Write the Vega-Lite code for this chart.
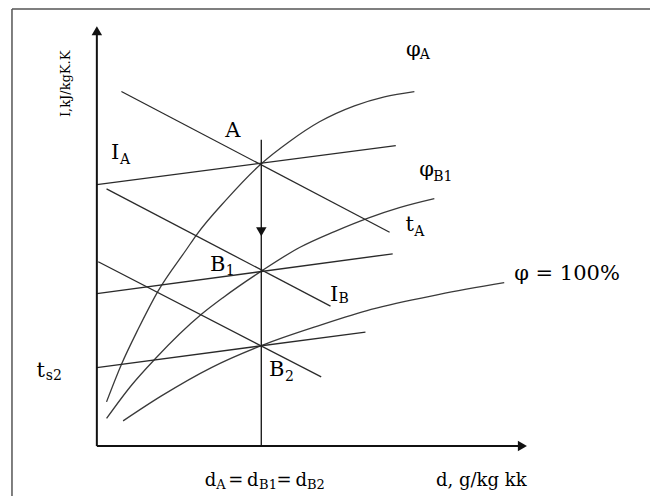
{
  "$schema": "https://vega.github.io/schema/vega-lite/v6.json",
  "width": 651,
  "height": 497,
  "autosize": {"type": "fit", "contains": "padding"},
  "padding": 0,
  "background": "white",
  "config": {"view": {"stroke": null}, "text": {"font": "DejaVu Serif", "color": "#000"}},
  "datasets": {
    "curves": [
      {"name": "phiA", "x": 9.7, "y": 44.3}, {"name": "phiA", "x": 24.7, "y": 82}, {"name": "phiA", "x": 41.3, "y": 117},
      {"name": "phiA", "x": 61.3, "y": 155.3}, {"name": "phiA", "x": 89.7, "y": 197}, {"name": "phiA", "x": 99.7, "y": 211.5},
      {"name": "phiA", "x": 129.7, "y": 247}, {"name": "phiA", "x": 164.7, "y": 283}, {"name": "phiA", "x": 193, "y": 305.3},
      {"name": "phiA", "x": 223, "y": 325}, {"name": "phiA", "x": 258, "y": 341}, {"name": "phiA", "x": 288, "y": 350},
      {"name": "phiA", "x": 318, "y": 355.3},
      {"name": "phiB1", "x": 9.7, "y": 27.7}, {"name": "phiB1", "x": 34.7, "y": 61}, {"name": "phiB1", "x": 58, "y": 87},
      {"name": "phiB1", "x": 104.7, "y": 132}, {"name": "phiB1", "x": 126.3, "y": 148.7}, {"name": "phiB1", "x": 164.7, "y": 175.3},
      {"name": "phiB1", "x": 203, "y": 199}, {"name": "phiB1", "x": 238, "y": 215}, {"name": "phiB1", "x": 273, "y": 229},
      {"name": "phiB1", "x": 303, "y": 239}, {"name": "phiB1", "x": 338, "y": 248},
      {"name": "phi100", "x": 26.3, "y": 25.3}, {"name": "phi100", "x": 64.7, "y": 50.3}, {"name": "phi100", "x": 114.7, "y": 78.7},
      {"name": "phi100", "x": 164.7, "y": 100.7}, {"name": "phi100", "x": 224.7, "y": 121.5}, {"name": "phi100", "x": 274.7, "y": 137},
      {"name": "phi100", "x": 343, "y": 152}, {"name": "phi100", "x": 408, "y": 163.7}
    ],
    "segments": [
      {"name": "tA", "x": 24.6, "y": 355.3}, {"name": "tA", "x": 293.2, "y": 214.3},
      {"name": "IA", "x": 0, "y": 262}, {"name": "IA", "x": 299.4, "y": 301},
      {"name": "IB", "x": 9.7, "y": 257.7}, {"name": "IB", "x": 234, "y": 140.3},
      {"name": "B1", "x": 0, "y": 152.7}, {"name": "B1", "x": 296.3, "y": 192.7},
      {"name": "ts2", "x": 1.4, "y": 184.7}, {"name": "ts2", "x": 224.7, "y": 69.3},
      {"name": "B2", "x": 0, "y": 78.7}, {"name": "B2", "x": 269, "y": 114.3}
    ],
    "rules": [
      {"name": "process", "x": 164.7, "y": 0, "x2": 164.7, "y2": 307}
    ],
    "axes": [
      {"name": "I", "x": 0, "y": 0, "x2": 0, "y2": 416},
      {"name": "d", "x": 0, "y": 0, "x2": 426, "y2": 0}
    ],
    "frame": [
      {"x": -85, "y": 438, "x2": 554, "y2": 438},
      {"x": -85, "y": 438, "x2": -85, "y2": -50}
    ],
    "arrows": [
      {"dir": "up", "x": 0, "y": 416.2},
      {"dir": "right", "x": 426.2, "y": 0},
      {"dir": "down", "x": 164.7, "y": 214.8}
    ],
    "main": [
      {"t": "φ", "x": 309.7, "y": 391}, {"t": "φ", "x": 323, "y": 270.3}, {"t": "t", "x": 309, "y": 216},
      {"t": "φ = 100%", "x": 418, "y": 166}, {"t": "A", "x": 128.5, "y": 310}, {"t": "I", "x": 14.2, "y": 288},
      {"t": "B", "x": 113.2, "y": 175.3}, {"t": "I", "x": 233.5, "y": 145.3}, {"t": "B", "x": 172.5, "y": 70.3},
      {"t": "t", "x": -60.5, "y": 69}
    ],
    "subs": [
      {"t": "A", "x": 323.5, "y": 387.7}, {"t": "B1", "x": 337, "y": 266}, {"t": "A", "x": 317.8, "y": 211},
      {"t": "A", "x": 23.3, "y": 283}, {"t": "1", "x": 129, "y": 171}, {"t": "B", "x": 242, "y": 143},
      {"t": "2", "x": 188.5, "y": 65.3}, {"t": "s2", "x": -51.2, "y": 66}
    ],
    "bottom": [
      {"t": "d", "x": 108, "y": -40.3}, {"t": "=", "x": 131.5, "y": -40.3}, {"t": "d", "x": 150.5, "y": -40.3},
      {"t": "=", "x": 180, "y": -40.3}, {"t": "d", "x": 199, "y": -40.3}, {"t": "d, g/kg kk", "x": 339.7, "y": -40.3}
    ],
    "bottomSubs": [
      {"t": "A", "x": 119.5, "y": -42.5}, {"t": "B1", "x": 162.5, "y": -42.5}, {"t": "B2", "x": 210.5, "y": -42.5}
    ],
    "ytitle": [
      {"t": "I,kJ/kgK.K", "x": -27, "y": 363}
    ]
  },
  "encoding": {
    "x": {"field": "x", "type": "quantitative", "scale": {"domain": [-97, 554], "nice": false, "zero": false}, "axis": null},
    "y": {"field": "y", "type": "quantitative", "scale": {"domain": [-50, 447], "nice": false, "zero": false}, "axis": null}
  },
  "layer": [
    {
      "data": {"name": "frame"},
      "mark": {"type": "rule", "color": "#555", "strokeWidth": 1.5},
      "encoding": {"x2": {"field": "x2"}, "y2": {"field": "y2"}}
    },
    {
      "data": {"name": "curves"},
      "mark": {"type": "line", "interpolate": "monotone", "color": "#3a3a3a", "strokeWidth": 1.3},
      "encoding": {"detail": {"field": "name"}}
    },
    {
      "data": {"name": "segments"},
      "mark": {"type": "line", "color": "#2a2a2a", "strokeWidth": 1.3},
      "encoding": {"detail": {"field": "name"}}
    },
    {
      "data": {"name": "rules"},
      "mark": {"type": "rule", "color": "#222", "strokeWidth": 1.4},
      "encoding": {"x2": {"field": "x2"}, "y2": {"field": "y2"}}
    },
    {
      "data": {"name": "axes"},
      "mark": {"type": "rule", "color": "#111", "strokeWidth": 2},
      "encoding": {"x2": {"field": "x2"}, "y2": {"field": "y2"}}
    },
    {
      "data": {"name": "arrows"},
      "mark": {"type": "point", "filled": true, "color": "#111", "size": 110, "opacity": 1},
      "encoding": {
        "shape": {"field": "dir", "type": "nominal", "scale": {"domain": ["up", "right", "down"], "range": ["triangle-up", "triangle-right", "triangle-down"]}, "legend": null}
      }
    },
    {
      "data": {"name": "main"},
      "mark": {"type": "text", "fontSize": 21, "align": "left", "baseline": "alphabetic"},
      "encoding": {"text": {"field": "t"}}
    },
    {
      "data": {"name": "subs"},
      "mark": {"type": "text", "fontSize": 14, "align": "left", "baseline": "alphabetic"},
      "encoding": {"text": {"field": "t"}}
    },
    {
      "data": {"name": "bottom"},
      "mark": {"type": "text", "fontSize": 18, "align": "left", "baseline": "alphabetic"},
      "encoding": {"text": {"field": "t"}}
    },
    {
      "data": {"name": "bottomSubs"},
      "mark": {"type": "text", "fontSize": 13, "align": "left", "baseline": "alphabetic"},
      "encoding": {"text": {"field": "t"}}
    },
    {
      "data": {"name": "ytitle"},
      "mark": {"type": "text", "fontSize": 13, "align": "center", "baseline": "alphabetic", "angle": 270},
      "encoding": {"text": {"field": "t"}}
    }
  ]
}
